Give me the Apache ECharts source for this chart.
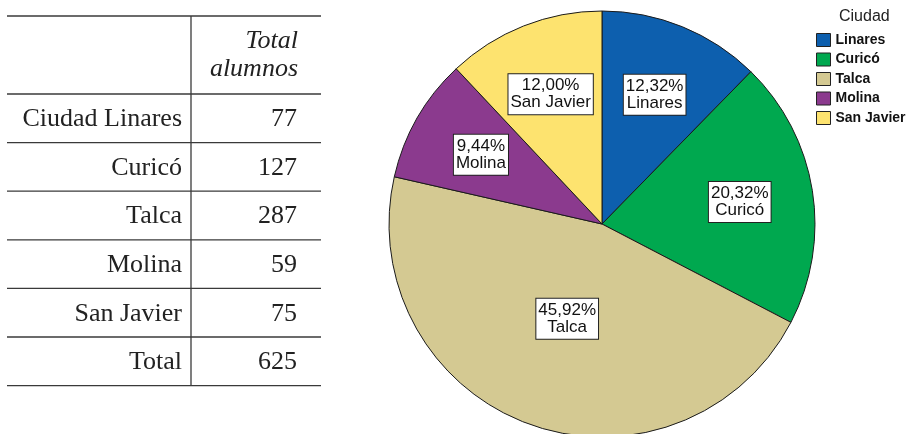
<!DOCTYPE html>
<html>
<head>
<meta charset="utf-8">
<script src="https://cdn.jsdelivr.net/npm/echarts@6/dist/echarts.min.js"></script>
<style>
html,body{margin:0;padding:0;background:#fff;}
#main{width:908px;height:434px;}
</style>
</head>
<body>
<div id="main"></div>
<script>
// datos
var ciudades = ['Linares', 'Curicó', 'Talca', 'Molina', 'San Javier'];
var alumnos = [77, 127, 287, 59, 75];
var colores = ['#0d5fae', '#00a84f', '#d4c992', '#8b3a8e', '#fde36f'];
var filasTabla = ['Ciudad Linares', 'Curicó', 'Talca', 'Molina', 'San Javier', 'Total'];
var valoresTabla = [77, 127, 287, 59, 75, 625];
var cabecera = ['Total', 'alumnos'];

var total = alumnos.reduce(function(a, b){ return a + b; }, 0);
var myChart = echarts.init(document.getElementById('main'));

// tabla a la izquierda
var tX0 = 7, tX1 = 321, tXdiv = 191, tTop = 16, tHead = 78, tRow = 48.6;
var serif = '"Liberation Serif", "DejaVu Serif", serif';
var graf = [];
var yLine = tTop;
graf.push({type:'line', shape:{x1:tX0, y1:tTop, x2:tX1, y2:tTop}, style:{stroke:'#3a3a3a', lineWidth:1.3}});
graf.push({type:'text', x:298, y:tTop + 25, style:{text:cabecera[0], font:'italic 26px ' + serif, fill:'#222', align:'right', verticalAlign:'middle'}});
graf.push({type:'text', x:298, y:tTop + 53, style:{text:cabecera[1], font:'italic 26px ' + serif, fill:'#222', align:'right', verticalAlign:'middle'}});
yLine = tTop + tHead;
for (var i = 0; i < filasTabla.length; i++) {
	var yl = yLine + i * tRow;
	graf.push({type:'line', shape:{x1:tX0, y1:yl, x2:tX1, y2:yl}, style:{stroke:'#3a3a3a', lineWidth:1.3}});
	graf.push({type:'text', x:182, y:yl + tRow / 2 + 1, style:{text:filasTabla[i], font:'26px ' + serif, fill:'#222', align:'right', verticalAlign:'middle'}});
	graf.push({type:'text', x:297, y:yl + tRow / 2 + 1, style:{text:String(valoresTabla[i]), font:'26px ' + serif, fill:'#222', align:'right', verticalAlign:'middle'}});
}
var yEnd = yLine + filasTabla.length * tRow;
graf.push({type:'line', shape:{x1:tX0, y1:yEnd, x2:tX1, y2:yEnd}, style:{stroke:'#3a3a3a', lineWidth:1.3}});
graf.push({type:'line', shape:{x1:tXdiv, y1:tTop, x2:tXdiv, y2:yEnd}, style:{stroke:'#3a3a3a', lineWidth:1.3}});

function etiqueta(p){
	return (p.value / total * 100).toFixed(2).replace('.', ',') + '%\n' + p.name;
}
var estiloEtiqueta = {
	show: true,
	position: 'inside',
	formatter: etiqueta,
	fontFamily: '"Liberation Sans", Arial, sans-serif',
	fontSize: 17,
	lineHeight: 17,
	color: '#111',
	backgroundColor: '#fff',
	borderColor: '#222',
	borderWidth: 1,
	padding: [4, 2, 2, 2]
};

var datosPie = ciudades.map(function(c, i){
	return {name:c, value:alumnos[i], itemStyle:{color:colores[i]}};
});
// etiquetas exteriores (todas menos Talca)
var datosEtqA = ciudades.map(function(c, i){
	return {name:c, value:alumnos[i], label:{show: c !== 'Talca'}};
});
// etiqueta de Talca mas cerca del centro
var datosEtqB = ciudades.map(function(c, i){
	return {name:c, value:alumnos[i], label:{show: c === 'Talca'}};
});

var option = {
	animation: false,
	title: {
		text: 'Ciudad',
		left: 834,
		top: 4,
		textStyle: {fontFamily:'"Liberation Sans", Arial, sans-serif', fontSize:16, fontWeight:'normal', color:'#222'}
	},
	legend: {
		orient: 'vertical',
		left: 816,
		top: 33,
		padding: 0,
		itemWidth: 14,
		itemHeight: 13,
		itemGap: 5.5,
		icon: 'rect',
		selectedMode: false,
		data: ciudades.map(function(c, i){
			return {name:c, itemStyle:{color:colores[i], borderColor:'#222', borderWidth:1}};
		}),
		textStyle: {fontFamily:'"Liberation Sans", Arial, sans-serif', fontSize:14, fontWeight:'bold', color:'#111'}
	},
	graphic: graf,
	series: [{
		type: 'pie',
		center: [602, 224],
		radius: [0, 213],
		startAngle: 90,
		clockwise: true,
		silent: true,
		label: {show:false},
		labelLine: {show:false},
		itemStyle: {borderColor:'#1a1a1a', borderWidth:1},
		data: datosPie
	}, {
		type: 'pie',
		center: [602, 224],
		radius: [60, 213],
		startAngle: 90,
		clockwise: true,
		silent: true,
		z: 3,
		label: estiloEtiqueta,
		labelLine: {show:false},
		itemStyle: {color:'rgba(0,0,0,0)', borderWidth:0},
		data: datosEtqA
	}, {
		type: 'pie',
		center: [602, 224],
		radius: [0, 196],
		startAngle: 90,
		clockwise: true,
		silent: true,
		z: 3,
		label: estiloEtiqueta,
		labelLine: {show:false},
		itemStyle: {color:'rgba(0,0,0,0)', borderWidth:0},
		data: datosEtqB
	}]
};
myChart.setOption(option);
</script>
</body>
</html>
